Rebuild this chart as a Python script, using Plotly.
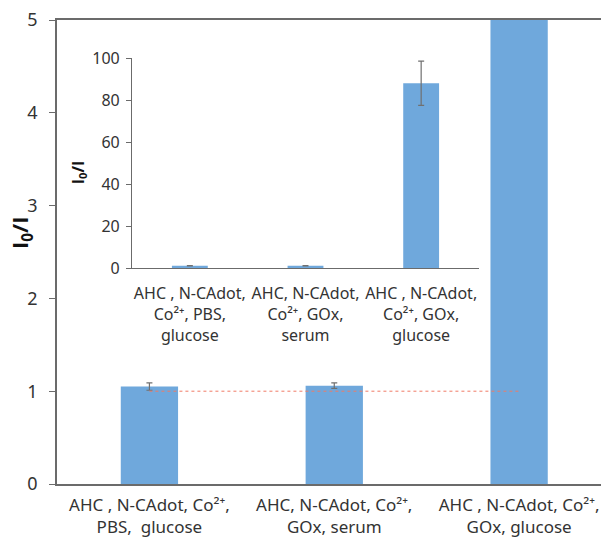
import plotly.graph_objects as go

positions = [0, 1, 2]
main_labels = ["AHC , N-CAdot, Co²⁺,<br>PBS,  glucose",
               "AHC, N-CAdot, Co²⁺,<br>GOx, serum",
               "AHC , N-CAdot, Co²⁺,<br>GOx, glucose"]
inset_labels = ["AHC , N-CAdot,<br>Co²⁺, PBS,<br>glucose",
                "AHC, N-CAdot,<br>Co²⁺, GOx,<br>serum",
                "AHC , N-CAdot,<br>Co²⁺, GOx,<br>glucose"]
values = [1.05, 1.06, 88.0]
errors = [0.04, 0.03, 10.5]
ref_x = [0, 2]
ref_y = [1, 1]
y_title = "<b>I<sub>0</sub>/I</b>"

bar_color = "#6FA8DC"
axis_color = "#6b6b6b"
FONT = "Noto Sans"
TFONT = "Open Sans"

fig = go.Figure()
fig.add_trace(go.Bar(x=positions, y=values, width=0.31, marker_color=bar_color,
                     marker_line_width=0,
                     error_y=dict(type="data", array=errors, color="#707070",
                                  thickness=1.2, width=3),
                     xaxis="x", yaxis="y", showlegend=False))
fig.add_trace(go.Scatter(x=ref_x, y=ref_y, mode="lines",
                         line=dict(color="#f07a66", width=1, dash="dot"),
                         xaxis="x", yaxis="y", showlegend=False))
fig.add_trace(go.Bar(x=positions, y=values, width=0.31, marker_color=bar_color,
                     marker_line_width=0,
                     error_y=dict(type="data", array=errors, color="#707070",
                                  thickness=1.2, width=3),
                     xaxis="x2", yaxis="y2", showlegend=False))

fig.update_layout(
    width=601, height=544,
    margin=dict(l=57, r=0, t=20, b=60),
    paper_bgcolor="white", plot_bgcolor="rgba(0,0,0,0)",
    font=dict(family=FONT, color="#333333"),
    xaxis=dict(domain=[0, 1], range=[-0.5, 2.443], tickvals=positions,
               ticktext=main_labels, showline=True, linecolor=axis_color,
               linewidth=1.5, mirror=True, ticks="", showgrid=False,
               zeroline=False, ticklabelstandoff=5, automargin=False,
               ticklabeloverflow="allow",
               tickfont=dict(size=17, family=FONT, color="#333333")),
    yaxis=dict(domain=[0, 1], range=[0, 5], dtick=1, showline=True,
               linecolor=axis_color, linewidth=1.5, ticks="outside", ticklen=6,
               tickcolor=axis_color, showgrid=False, zeroline=False,
               ticklabelstandoff=8, automargin=False,
               tickfont=dict(size=18, family=FONT, color="#333333")),
    xaxis2=dict(domain=[0.1379, 0.7757], anchor="y2", range=[-0.5, 2.5],
                tickvals=positions, ticktext=inset_labels, showline=True,
                linecolor=axis_color, linewidth=1.2, ticks="", showgrid=False,
                zeroline=False, ticklabelstandoff=11, automargin=False,
                tickfont=dict(size=16, family=FONT, color="#333333")),
    yaxis2=dict(domain=[0.4655, 0.918], anchor="x2", range=[0, 100], dtick=20,
                showline=True, linecolor=axis_color, linewidth=1.2,
                ticks="outside", ticklen=5, tickcolor=axis_color,
                showgrid=False, zeroline=False, ticklabelstandoff=3,
                automargin=False,
                tickfont=dict(size=16, family=FONT, color="#333333")),
    annotations=[
        dict(text=y_title, textangle=-90, xref="paper", yref="paper",
             x=-0.066, y=0.541, showarrow=False, xanchor="center", yanchor="middle",
             font=dict(size=22, family=TFONT, color="#111111")),
        dict(text=y_title, textangle=-90, xref="paper", yref="paper",
             x=0.0386, y=0.672, showarrow=False, xanchor="center", yanchor="middle",
             font=dict(size=16, family=TFONT, color="#111111")),
    ],
)

fig.write_html("out.html")
